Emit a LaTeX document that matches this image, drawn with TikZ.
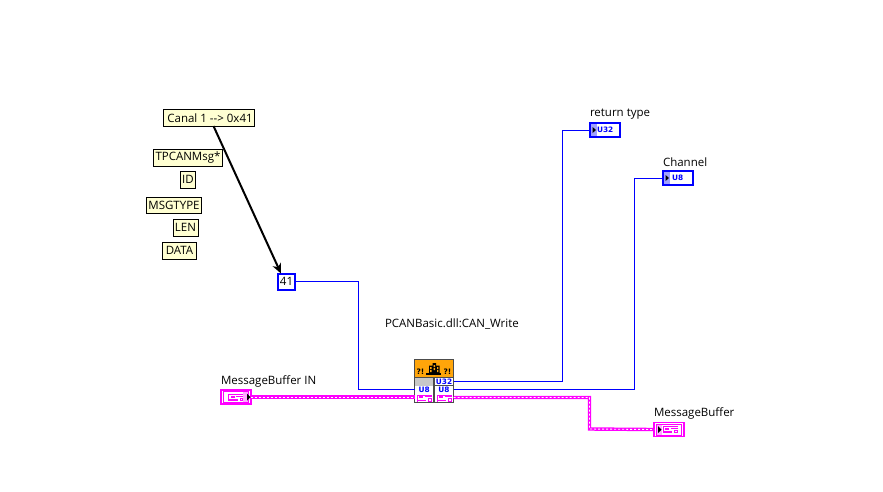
\documentclass[tikz,border=0pt]{standalone}
\usepackage{fontspec}
\setmainfont{Open Sans}
\newfontfamily\pixfont{DejaVu Sans}
\usetikzlibrary{arrows.meta}
\definecolor{lvblue}{RGB}{0,0,255}
\definecolor{lvpink}{RGB}{255,0,255}
\definecolor{lvyellow}{RGB}{255,255,210}
\definecolor{lvorange}{RGB}{255,165,10}
\definecolor{lvgray}{RGB}{200,200,200}
\definecolor{lvlight}{RGB}{160,160,255}
\definecolor{lvlpink}{RGB}{255,170,255}
\tikzset{
  x=1pt,y=-1pt,
  every node/.style={inner sep=0pt,outer sep=0pt,font=\fontsize{11.5}{13}\selectfont},
  note/.style={draw=black,line width=1pt,fill=lvyellow,minimum width=#1,minimum height=16.5pt,anchor=west},
  lbl/.style={anchor=west},
  termU/.style={draw=lvblue,line width=1.5pt,fill=white,minimum width=30pt,minimum height=14pt,anchor=west},
  termP/.style={draw=lvpink,line width=1.5pt,fill=white,minimum width=30pt,minimum height=14pt,anchor=west},
  numtxt/.style={font=\pixfont\fontsize{7.4}{8}\bfseries\selectfont,text=lvblue},
  cell/.style={minimum width=18.5pt,minimum height=7.5pt,fill=white,anchor=center},
  bluew/.style={draw=lvblue,line width=1pt},
  pinkw/.style={draw=lvpink,line width=3.4pt},
  pinkd/.style={draw=white,line width=0.9pt,dash pattern=on 2pt off 2pt},
  qmark/.style={font=\pixfont\fontsize{7.5}{8}\bfseries\selectfont}
}
\begin{document}
\begin{tikzpicture}
\useasboundingbox (0,0) rectangle (883,491);
% notes
\node[note=91pt] (canal) at (163.5,117.8) {\hspace{0pt}\hspace{2pt}Canal 1 {-}{-}> 0x41\hfill};
\node[note=69pt] (tpcan) at (153.5,157.8) {TPCANMsg*};
\node[note=15pt] (idn) at (180.5,179.8) {ID};
\node[note=55pt] (msgtype) at (146.5,205.3) {MSGTYPE};
\node[note=25pt] (lenn) at (173,227.8) {LEN};
\node[note=34pt] (datan) at (162.5,250.8) {DATA};
% constant
\node[draw=lvblue,line width=2pt,fill=white,minimum width=17pt,minimum height=16pt] (c41) at (286.5,281.5) {41};
% labels
\node[lbl] (lclf) at (385,324.5) {PCANBasic.dll:CAN\_Write};
\node[lbl] (lret) at (590,114.5) {return type};
\node[lbl] (lchan) at (663,162) {Channel};
\node[lbl] (lmin) at (221,381.5) {MessageBuffer IN};
\node[lbl] (lmout) at (654,413) {MessageBuffer};
% terminals
\node[termU] (tret) at (589.8,130) {};
\node[termU] (tchan) at (662.8,178) {};
\node[termP] (tin) at (220.8,397) {};
\node[termP] (tout) at (654,429.5) {};
\draw[lvpink,line width=0.8pt] (223.5,391.5) rectangle (248,402.5);
\draw[lvpink,line width=0.8pt] (656.5,424) rectangle (681,435);
% CLF node
\node[draw=black!70,line width=1pt,fill=black!70,minimum width=39pt,minimum height=43pt,anchor=north west] (clf) at (414.5,359.5) {};
\node[fill=lvorange,minimum width=38pt,minimum height=17pt,anchor=north west] (clfhead) at (415,360) {};
\node[cell,fill=lvgray,minimum height=8pt] (cgray) at (424.2,381.5) {};
\node[cell] (cu32) at (444,381.5) {};
\node[cell] (cl8) at (424.2,389.8) {};
\node[cell] (cr8) at (444,389.8) {};
\node[cell] (clp) at (424.2,398) {};
\node[cell] (crp) at (444,398) {};
\node[numtxt] at (cu32) {U32};
\node[numtxt] at (cl8) {U8};
\node[numtxt] at (cr8) {U8};
% dll icon
\fill[black] (429,365.5) rectangle (433,373) (432.5,363) rectangle (436,373) (436,365.5) rectangle (439.5,373);
\fill[lvorange] (430.2,367) rectangle (431.6,369) (430.2,370) rectangle (431.6,372)
  (433.6,365) rectangle (435,367) (433.6,368) rectangle (435,370)
  (437,367) rectangle (438.4,369) (437,370) rectangle (438.4,372);
\fill[black] (426,372.5) rectangle (441,375);
\node[qmark] at (420.5,372) {?!};
\node[qmark] at (447.5,372) {?!};
% terminal glyphs
\fill[lvlight] (591,124) rectangle (597,136);
\fill[lvlight] (664,172) rectangle (670,184);
\fill[black] (592.5,127) -- (596,130) -- (592.5,133) -- cycle;
\fill[black] (665.5,175) -- (669,178) -- (665.5,181) -- cycle;
\node[numtxt,anchor=west] at (597,130) {U32};
\node[numtxt,anchor=west] at (672,178) {U8};
\fill[lvlpink] (657,425) rectangle (662,434.5);
\fill[black] (658,426) -- (661.5,429.5) -- (658,433) -- cycle;
\fill[lvlpink] (243,392) rectangle (248,402);
\fill[black] (247,393.5) -- (250.5,397) -- (247,400.5) -- cycle;
% cluster glyphs
\foreach \cx/\cy in {235.5/397.5, 670/429.5, 424/398, 444/398}{
  \fill[lvpink] (\cx-7.5,\cy-3.5) rectangle (\cx+7.5,\cy-2.6);
  \fill[lvpink] (\cx-7.5,\cy-3.5) rectangle (\cx-6.6,\cy+3.5);
  \fill[lvpink] (\cx-5,\cy-1.8) rectangle (\cx-1,\cy+0.2);
  \fill[lvpink] (\cx+0.5,\cy-1.8) rectangle (\cx+7.5,\cy-0.6);
  \fill[lvpink] (\cx-7,\cy+1.8) rectangle (\cx+2,\cy+3.2);
  \fill[lvpink] (\cx+4,\cy+0.2) rectangle (\cx+7.5,\cy+3.5);
  \fill[white] (\cx+5,\cy+1.2) rectangle (\cx+6.5,\cy+2.5);
}
% wires
\draw[line width=2pt,black,-{Stealth[length=10pt,width=9pt,inset=3pt]},shorten >=0pt] (canal.south -| 213.5,126) -- (c41.north -| 281,271.5);
\draw[bluew] (c41.east) -- (358,281.5) -- (358,389.5) -- (clf.west |- 358,389.5);
\draw[bluew] (clf.east |- 0,381.5) -- (562.5,381.5) -- (562.5,130.5) -- (tret.west |- 0,130.5);
\draw[bluew] (clf.east |- 0,389.5) -- (634.5,389.5) -- (634.5,178.5) -- (tchan.west |- 0,178.5);
\draw[pinkw] (tin.east) -- (clf.west |- 0,397);
\draw[pinkd] (tin.east) -- (clf.west |- 0,397);
\draw[pinkw] (clf.east |- 0,397.5) -- (589.5,397.5) -- (589.5,429) -- (tout.west);
\draw[pinkd] (clf.east |- 0,397.5) -- (589.5,397.5) -- (589.5,429) -- (tout.west);
\end{tikzpicture}
\end{document}
